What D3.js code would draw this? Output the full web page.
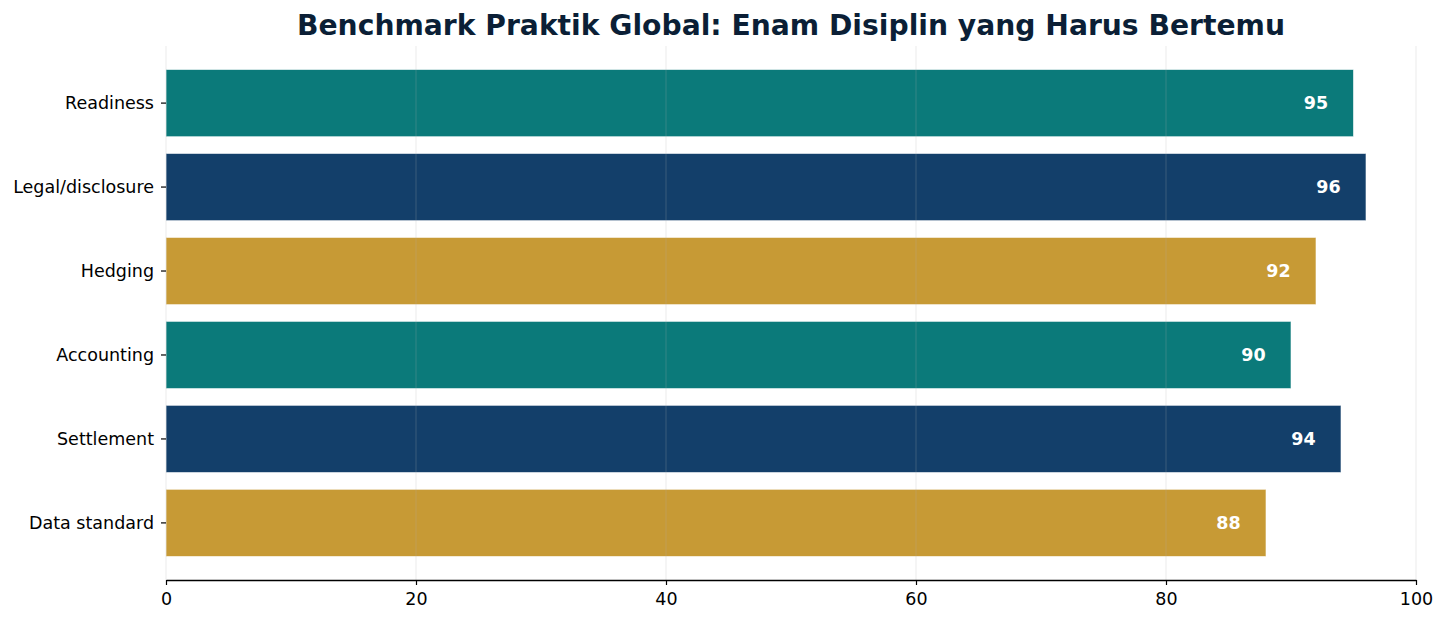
<!DOCTYPE html>
<html>
<head>
<meta charset="utf-8">
<script src="https://cdn.jsdelivr.net/npm/d3@7"></script>
<style>
    html, body { margin: 0; padding: 0; background: #fff; }
    svg { display: block; font-family: 'DejaVu Sans', sans-serif; }
</style>
</head>
<body>
<svg id="chart" width="1446" height="622"></svg>
<script>
    var categories = ['Readiness', 'Legal/disclosure', 'Hedging', 'Accounting', 'Settlement', 'Data standard'],
        scores = [95, 96, 92, 90, 94, 88],
        barColors = ['#0b7a7a', '#133f6a', '#c79a35', '#0b7a7a', '#133f6a', '#c79a35'],
        xTicks = [0, 20, 40, 60, 80, 100];

    var width = 1446,
        height = 622,
        margin = {top: 46, right: 30, bottom: 42, left: 166},
        fontSize = '17.5px';

    var svg = d3.select('#chart');

    var x = d3.scaleLinear()
        .domain([0, 100])
        .range([margin.left, width - margin.right]);

    // bars 0.8 of the row, plus a little margin above and below
    var y = d3.scaleBand()
        .domain(categories)
        .range([margin.top, height - margin.bottom])
        .paddingInner(0.2)
        .paddingOuter(0.28);

    var bars = svg.append('g');
    bars.selectAll('rect')
        .data(scores)
        .enter()
        .append('rect')
            .attr('x', x(0))
            .attr('y', function(d, i) { return y(categories[i]); })
            .attr('width', function(d) { return x(d) - x(0); })
            .attr('height', y.bandwidth())
            .attr('fill', function(d, i) { return barColors[i]; })
            .attr('stroke', 'rgba(255,255,255,0.6)')
            .attr('stroke-width', 1);

    // faint vertical grid above the bars
    svg.append('g')
        .selectAll('line')
        .data(xTicks)
        .enter()
        .append('line')
            .attr('x1', function(d) { return x(d); })
            .attr('x2', function(d) { return x(d); })
            .attr('y1', margin.top)
            .attr('y2', height - margin.bottom)
            .attr('stroke', '#b0b0b0')
            .attr('stroke-opacity', 0.25)
            .attr('stroke-width', 1);

    svg.append('g')
        .selectAll('text')
        .data(scores)
        .enter()
        .append('text')
            .attr('x', function(d) { return x(d - 3); })
            .attr('y', function(d, i) { return y(categories[i]) + y.bandwidth() / 2; })
            .attr('dy', '0.36em')
            .attr('text-anchor', 'middle')
            .attr('fill', '#ffffff')
            .attr('font-weight', 'bold')
            .attr('font-size', fontSize)
            .text(function(d) { return d; });

    var xAxis = svg.append('g')
        .attr('transform', 'translate(0,' + (height - margin.bottom) + ')')
        .call(d3.axisBottom(x).tickValues(xTicks).tickSize(5).tickPadding(8).tickSizeOuter(0));
    xAxis.select('.domain').attr('stroke', '#000').attr('stroke-width', 1.4);
    xAxis.selectAll('.tick line').attr('stroke', '#000').attr('stroke-width', 1.2);
    xAxis.selectAll('.tick text')
        .attr('font-size', fontSize)
        .attr('font-family', 'DejaVu Sans, sans-serif')
        .attr('fill', '#000');

    var yAxis = svg.append('g')
        .attr('transform', 'translate(' + margin.left + ',0)')
        .call(d3.axisLeft(y).tickSize(5).tickPadding(7));
    yAxis.select('.domain').remove();
    yAxis.selectAll('.tick line').attr('stroke', '#000').attr('stroke-width', 1.2);
    yAxis.selectAll('.tick text')
        .attr('font-size', fontSize)
        .attr('font-family', 'DejaVu Sans, sans-serif')
        .attr('fill', '#000');

    svg.append('text')
        .attr('x', (x(0) + x(100)) / 2)
        .attr('y', 35)
        .attr('text-anchor', 'middle')
        .attr('font-size', '28.2px')
        .attr('font-weight', 'bold')
        .attr('fill', '#0b1f36')
        .text('Benchmark Praktik Global: Enam Disiplin yang Harus Bertemu');
</script>
</body>
</html>
